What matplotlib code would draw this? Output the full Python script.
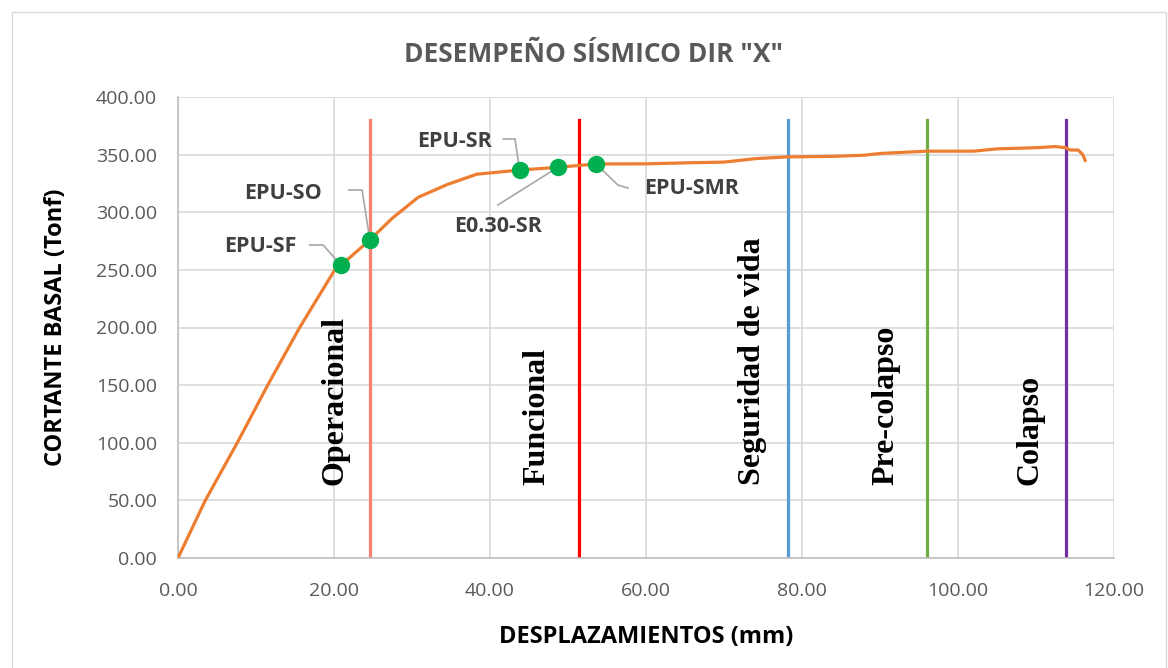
import matplotlib.pyplot as plt
from matplotlib.patches import Rectangle

# pushover curve (mm, Tonf)
disp = [0, 3.5, 7.6, 11.5, 15.6, 20.1, 20.9, 24.6, 27.5, 30.8, 34.5, 38.3, 43.8,
        48.7, 53.6, 60, 66, 70, 74, 78, 84, 88, 90, 96, 102, 105, 110, 112.5,
        113.8, 114.4, 115.4, 116.0, 116.3]
shear = [0, 50, 100, 150, 200, 250, 254, 276, 295, 313, 324, 333, 336.6,
         339, 341.9, 342, 343, 343.5, 346.5, 348, 348.5, 349.5, 351, 353, 353,
         355, 356, 357, 356, 354, 354, 350, 345]

# performance levels
levels = ["Operacional", "Funcional", "Seguridad de vida", "Pre-colapso", "Colapso"]
level_x = [24.6, 51.4, 78.2, 96.0, 113.8]
level_colors = ["#F8826F", "#FF0000", "#5B9BD5", "#70AD47", "#7030A0"]

# performance points
pt_names = ["EPU-SF", "EPU-SO", "EPU-SR", "E0.30-SR", "EPU-SMR"]
pt_x = [20.9, 24.6, 43.8, 48.7, 53.6]
pt_y = [254, 276, 336.6, 339, 341.9]

fig = plt.figure(figsize=(11.68, 6.68), dpi=100)
ax = fig.add_axes([178 / 1168, 1 - 558 / 668, (1114 - 178) / 1168, (558 - 97) / 668])

fig.patches.append(Rectangle((12 / 1168, -0.01), 1154 / 1168, 1 - 12 / 668 + 0.01,
                             transform=fig.transFigure, fill=False,
                             edgecolor="#D9D9D9", lw=1))

ax.plot(disp, shear, color="#ED7D31", lw=2.3, zorder=3)

for name, x, c in zip(levels, level_x, level_colors):
    ax.plot([x, x], [0, 380], color=c, lw=2.3, zorder=2)

text_x = [20.1, 46.0, 73.6, 90.8, 109.2]
for name, x in zip(levels, text_x):
    ax.text(x, 63, name, rotation=90, ha="center", va="bottom",
            family="Liberation Serif", fontweight="bold", fontsize=23, color="black")

ax.plot(pt_x, pt_y, "o", color="#00B050", ms=11.5, zorder=4)

# labels with leader lines (label position, leader path)
lab_pos = [(10.5, 270.7), (13.5, 316.7), (35.5, 361.8), (41.0, 288), (65.8, 321)]
leaders = [
    [(16.9, 271.6), (18.6, 271.6), (20.9, 254)],
    [(21.9, 319.3), (23.6, 319.3), (24.6, 276)],
    [(41.7, 363.6), (43.2, 363.6), (43.8, 336.6)],
    [(41.0, 306.3), (48.7, 339)],
    [(53.6, 341.9), (56.4, 323.6), (57.7, 321)],
]
for name, (lx, ly), path in zip(pt_names, lab_pos, leaders):
    ax.text(lx, ly, name, ha="center", va="center", fontsize=15.5,
            fontweight="bold", color="#404040", family="Open Sans")
    ax.plot([p[0] for p in path], [p[1] for p in path], color="#A6A6A6", lw=1.2, zorder=2)

ax.set_xlim(0, 120)
ax.set_ylim(0, 400)
ax.set_xticks(range(0, 121, 20))
ax.set_yticks(range(0, 401, 50))
ax.set_xticklabels([f"{v:.2f}" for v in range(0, 121, 20)])
ax.set_yticklabels([f"{v:.2f}" for v in range(0, 401, 50)])
ax.tick_params(length=0, labelsize=14, labelcolor="#595959")
ax.tick_params(axis="y", pad=15)
ax.tick_params(axis="x", pad=17)
for lab in ax.get_xticklabels() + ax.get_yticklabels():
    lab.set_family("Open Sans")
ax.grid(True, color="#D9D9D9", lw=1.2)
ax.set_axisbelow(True)
for s in ["top", "right"]:
    ax.spines[s].set_visible(False)
for s in ["left", "bottom"]:
    ax.spines[s].set_color("#BFBFBF")
    ax.spines[s].set_linewidth(1.2)

ax.set_xlabel("DESPLAZAMIENTOS (mm)", fontsize=17, fontweight="bold",
              family="Open Sans", labelpad=18)
ax.set_ylabel("CORTANTE BASAL (Tonf)", fontsize=17, fontweight="bold",
              family="Open Sans", labelpad=20)
fig.text(593 / 1168, 1 - 55 / 668, 'DESEMPEÑO SÍSMICO DIR "X"', ha="center", va="center",
         fontsize=19, fontweight="bold", color="#595959", family="Open Sans")

fig.savefig("out.png", dpi=100)
